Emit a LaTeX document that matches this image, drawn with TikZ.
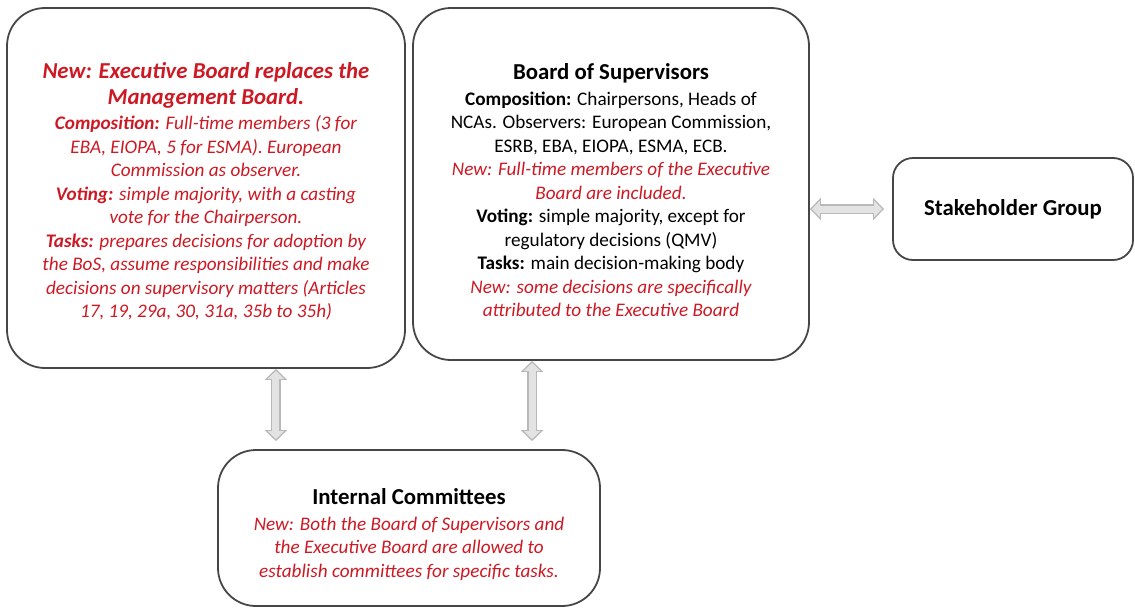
\documentclass[tikz,border=0pt]{standalone}
\usepackage{fontspec}
\setmainfont{Carlito}
\usetikzlibrary{arrows.meta}

\definecolor{newred}{RGB}{205,25,35}
\definecolor{edge}{RGB}{70,70,70}
\newcommand{\hd}[1]{{\fontsize{22.8}{25}\selectfont\bfseries #1}}

\begin{document}
\begin{tikzpicture}[x=1pt, y=-1pt,
  box/.style={draw=edge, line width=1.8pt, rounded corners=38pt, align=center,
    inner sep=0pt, font=\fontsize{19.2}{23.5}\selectfont},
  link/.style={draw=gray!55, line width=10pt,
    {Triangle[length=11pt,width=22pt]}-{Triangle[length=11pt,width=22pt]},
    postaction={draw=gray!22, line width=7pt, shorten <=2pt, shorten >=2pt,
      {Triangle[length=8pt,width=16pt]}-{Triangle[length=8pt,width=16pt]}}}]

\useasboundingbox (0,0) rectangle (1135,608);

% Boxes
\node[box, minimum width=398pt, minimum height=360pt, text=newred,
  font=\fontsize{19.2}{23.5}\selectfont\itshape] (exec) at (206,188) {%
  \rule{0pt}{23pt}\hd{New: Executive Board replaces the}\\[2pt]
  \hd{Management Board.}\\[2pt]
  \textbf{Composition:} Full-time members (3 for\\
  EBA, EIOPA, 5 for ESMA). European\\
  Commission as observer.\\
  \textbf{Voting:} simple majority, with a casting\\
  vote for the Chairperson.\\
  \textbf{Tasks:} prepares decisions for adoption by\\
  the BoS, assume responsibilities and make\\
  decisions on supervisory matters (Articles\\
  17, 19, 29a, 30, 31a, 35b to 35h)};

\node[box, minimum width=396pt, minimum height=352pt] (bos) at (611,184) {%
  \rule{0pt}{29pt}\hd{Board of Supervisors}\\[2pt]
  \textbf{Composition:} Chairpersons, Heads of\\
  NCAs. Observers: European Commission,\\
  ESRB, EBA, EIOPA, ESMA, ECB.\\
  \textcolor{newred}{\itshape New: Full-time members of the Executive}\\
  \textcolor{newred}{\itshape Board are included.}\\
  \textbf{Voting:} simple majority, except for\\
  regulatory decisions (QMV)\\
  \textbf{Tasks:} main decision-making body\\
  \textcolor{newred}{\itshape New: some decisions are specifically}\\
  \textcolor{newred}{\itshape attributed to the Executive Board}};

\node[box, rounded corners=20pt, minimum width=240pt, minimum height=102pt]
  (stake) at (1013,209) {\hd{Stakeholder Group}};

\node[box, minimum width=382pt, minimum height=156pt] (ic) at (409,528) {%
  \rule{0pt}{29pt}\hd{Internal Committees}\\[2pt]
  \textcolor{newred}{\itshape New: Both the Board of Supervisors and}\\
  \textcolor{newred}{\itshape the Executive Board are allowed to}\\
  \textcolor{newred}{\itshape establish committees for specific tasks.}};

% Arrows
\coordinate (l) at ([xshift=-130pt]exec.south east);
\coordinate (r) at ([xshift=120pt]bos.south west);
\draw[link] (l) -- ([yshift=8pt]l |- ic.north);
\draw[link] (r) -- ([yshift=8pt]r |- ic.north);
\draw[link] (bos.east |- stake.west) -- ([xshift=-8pt]stake.west);

\end{tikzpicture}
\end{document}
